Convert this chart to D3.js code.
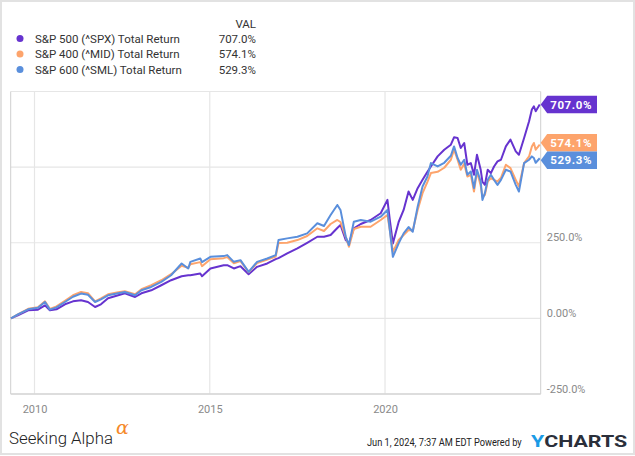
<!DOCTYPE html>
<html>
<head>
<meta charset="utf-8">
<script src="https://cdn.jsdelivr.net/npm/d3@7"></script>
<style>
  html, body { margin: 0; padding: 0; background: #fff; }
  svg { display: block; font-family: Roboto, "Noto Sans", sans-serif; }
</style>
</head>
<body>
<svg id="chart" width="635" height="456"></svg>
<script>
// ---- data ----
const seriesNames = ["S&P 500 (^SPX) Total Return", "S&P 400 (^MID) Total Return", "S&P 600 (^SML) Total Return"];
const seriesColors = ["#6633cf", "#fda46c", "#5a8fdc"];
const finalLabels = ["707.0%", "574.1%", "529.3%"];

const dates = [
  "2009-05-01","2009-07-12","2009-10-27","2010-02-06","2010-04-20","2010-06-10","2010-08-18","2010-11-14",
  "2011-02-06","2011-05-01","2011-07-12","2011-09-24","2011-11-24","2012-02-06","2012-05-22","2012-07-30",
  "2012-11-14","2013-01-19","2013-05-01","2013-08-14","2013-11-24","2014-03-14","2014-05-22","2014-06-13",
  "2014-09-24","2014-10-12","2015-01-08","2015-05-26","2015-07-02","2015-09-09","2015-11-17","2016-02-10",
  "2016-05-08","2016-08-22","2016-11-18","2016-12-17","2017-03-18","2017-07-02","2017-10-12","2018-01-26",
  "2018-04-05","2018-06-13","2018-08-22","2018-09-24","2018-11-18","2018-12-21","2019-02-10","2019-04-23",
  "2019-08-04","2019-11-17","2020-01-26","2020-02-20","2020-03-23","2020-05-22","2020-07-13","2020-09-02",
  "2020-10-16","2020-12-06","2021-01-26","2021-03-18","2021-04-23","2021-07-02","2021-09-09","2021-11-17",
  "2021-12-20","2022-01-26","2022-02-28","2022-04-05","2022-05-08","2022-06-13","2022-07-16","2022-08-16",
  "2022-09-24","2022-10-12","2022-11-07","2022-12-06","2023-01-08","2023-02-10","2023-03-18","2023-04-23",
  "2023-06-13","2023-07-31","2023-09-24","2023-10-27","2023-12-20","2024-02-10","2024-03-10","2024-03-31",
  "2024-04-19","2024-05-31"
];

const spx = [
  0, 10, 26.6, 28.9, 43.1, 26.6, 29.9, 46.5,
  56.4, 59.7, 54.1, 37.5, 46.5, 66.4, 76.3, 83,
  70.7, 83, 92.9, 109.5, 126.1, 139.4, 142.7, 142.7,
  148.4, 139.4, 165, 175.9, 175.9, 165, 172.6, 146,
  170.3, 181.5, 195.8, 199.1, 214.7, 231.3, 249.9, 269.8,
  269.8, 275.5, 298.7, 308.7, 258.9, 247.9, 297.7, 312,
  325.3, 347.5, 391.6, 325.3, 247.9, 318.6, 358.5, 419.2,
  391.6, 430.5, 458, 484.6, 502.2, 535.4, 557.6, 574.2,
  598.4, 596.4, 563.2, 579.8, 507.8, 513.4, 474.6, 541,
  491.2, 451.4, 441.4, 491.2, 480.3, 502.2, 518.8, 524.4,
  568.5, 590.8, 551.9, 541, 596.4, 651.5, 690.4, 701.3,
  684.7, 707.0
];

const mid = [
  0, 13, 31.5, 36.5, 56.4, 31.5, 39.8, 58.1,
  76.3, 87.3, 83, 56.4, 66.4, 79.7, 86.3, 89.6,
  79.7, 96.3, 109.5, 126.1, 146, 174.2, 167.6, 179.2,
  185.9, 172.6, 195.8, 199.1, 202.5, 182.5, 189.2, 152.7,
  182.5, 194.2, 204.1, 248.9, 249.9, 258.9, 272.2, 297.7,
  288.8, 312, 325.3, 318.6, 268.8, 236.6, 295.4, 303,
  303, 325.3, 341.9, 292.1, 220, 258.9, 275.5, 292.1,
  290.4, 358.5, 413.9, 451.4, 480.3, 484.6, 497.9, 524.4,
  557.6, 524.4, 491.2, 511.1, 469, 474.6, 419.2, 485.6,
  438.1, 401.6, 408.2, 452.4, 463.7, 458, 452.4, 464.7,
  507.8, 496.8, 458, 435.8, 513.4, 535.4, 568.5, 579.8,
  557.6, 574.1
];

const sml = [
  0, 13, 29.9, 34.8, 54.1, 28.9, 36.5, 54.1,
  71.4, 82, 78, 54.1, 63.1, 76.3, 83, 87.3,
  76.3, 92.9, 103.9, 120.5, 142.7, 181.5, 165, 186.9,
  198.1, 185.9, 203.5, 205.8, 209.1, 186.9, 192.5, 153.7,
  186.9, 198.1, 209.1, 258.9, 264.5, 269.8, 281.1, 314.3,
  305.3, 341.9, 375, 358.5, 269.8, 242.3, 319.6, 325.3,
  319.6, 336.2, 358.5, 292.1, 203.5, 247.9, 281.1, 302,
  286.4, 369.4, 435.8, 469, 513.4, 502.2, 514.4, 537.7,
  568.5, 530, 507.8, 524.4, 474.6, 485.6, 430.5, 491.2,
  452.4, 391.6, 414.9, 458, 474.6, 458, 441.4, 458,
  491.2, 485.6, 441.4, 419.2, 513.4, 524.4, 535.4, 530,
  514.4, 529.3
];

const gridValues = [-250, 0, 250, 500, 750];
const yTickValues = [-250, 0, 250];
const yTickLabels = ["-250.0%", "0.00%", "250.0%"];
const xTickYears = [2010, 2015, 2020];

// ---- drawing ----
const svg = d3.select("#chart");
const W = 635, H = 456;
const parse = d3.timeParse("%Y-%m-%d");
const dateObjs = dates.map(parse);
const series = [spx, mid, sml];

const plot = { left: 10.7, right: 540.7, top: 91.5, bottom: 394 };

const x = d3.scaleTime()
  .domain([parse("2009-04-28"), parse("2024-06-10")])
  .range([plot.left, plot.right]);
const y = d3.scaleLinear()
  .domain([-250, 750])
  .range([plot.bottom, plot.top]);

// outer frame
svg.append("rect").attr("x", 1).attr("y", 1).attr("width", W - 2).attr("height", H - 3)
  .attr("fill", "#fff").attr("stroke", "#e2e2e2").attr("stroke-width", 2);

// horizontal gridlines
svg.append("g").selectAll("line").data(gridValues).join("line")
  .attr("x1", plot.left).attr("x2", plot.right)
  .attr("y1", d => y(d)).attr("y2", d => y(d))
  .attr("stroke", "#e6e6e6").attr("stroke-width", 1.2);

// vertical gridlines
const xTickDates = xTickYears.map(yr => new Date(yr, 0, 1));
svg.append("g").selectAll("line").data(xTickDates).join("line")
  .attr("x1", d => x(d)).attr("x2", d => x(d))
  .attr("y1", plot.top).attr("y2", plot.bottom)
  .attr("stroke", "#e6e6e6").attr("stroke-width", 1.2);

// plot border (left, right, bottom)
svg.append("line").attr("x1", plot.left).attr("x2", plot.left).attr("y1", plot.top).attr("y2", plot.bottom)
  .attr("stroke", "#cfcfcf").attr("stroke-width", 1);
svg.append("line").attr("x1", plot.right).attr("x2", plot.right).attr("y1", plot.top).attr("y2", plot.bottom)
  .attr("stroke", "#cfcfcf").attr("stroke-width", 1);
svg.append("line").attr("x1", plot.left).attr("x2", plot.right).attr("y1", plot.bottom).attr("y2", plot.bottom)
  .attr("stroke", "#d6d6d6").attr("stroke-width", 1.5);

// x axis labels
const xAxis = d3.axisBottom(x).tickValues(xTickDates).tickFormat(d3.timeFormat("%Y")).tickSize(0).tickPadding(0);
const gx = svg.append("g").attr("transform", `translate(0,${plot.bottom})`).call(xAxis);
gx.select(".domain").remove();
gx.selectAll("text").attr("y", 19).attr("dy", 0)
  .attr("fill", "#8a8a8a").style("font-size", "11px").style("font-family", "Roboto, sans-serif");

// y axis labels (right)
const yAxis = d3.axisRight(y).tickValues(yTickValues)
  .tickFormat(d => yTickLabels[yTickValues.indexOf(d)]).tickSize(0).tickPadding(0);
const gy = svg.append("g").attr("transform", `translate(${plot.right + 6},0)`).call(yAxis);
gy.select(".domain").remove();
gy.selectAll("text").attr("dy", -2).attr("y", 0)
  .attr("fill", "#8a8a8a").style("font-size", "11px").style("font-family", "Roboto, sans-serif")
  .attr("dominant-baseline", "auto");

// lines
const line = d3.line().x((d, i) => x(dateObjs[i])).y(d => y(d)).curve(d3.curveLinear);
series.forEach((s, k) => {
  svg.append("path").datum(s).attr("d", line)
    .attr("fill", "none").attr("stroke", seriesColors[k])
    .attr("stroke-width", 2).attr("stroke-linejoin", "round");
});

// end tags with collision avoidance
const tagH = 17.5;
let tags = series.map((s, k) => ({ k, yy: y(s[s.length - 1]) }));
tags.sort((a, b) => a.yy - b.yy);
for (let iter = 0; iter < 50; iter++) {
  for (let i = 1; i < tags.length; i++) {
    const gap = tags[i].yy - tags[i - 1].yy;
    if (gap < tagH) {
      const push = (tagH - gap) / 2;
      tags[i].yy += push; tags[i - 1].yy -= push;
    }
  }
}
const tx0 = plot.right, tx1 = plot.right + 6.5, tx2 = 597;
tags.forEach(t => {
  const c = t.yy, h = tagH / 2;
  svg.append("path")
    .attr("d", `M${tx0},${c} L${tx1},${c - h} L${tx2},${c - h} L${tx2},${c + h} L${tx1},${c + h} Z`)
    .attr("fill", seriesColors[t.k]);
  svg.append("text").attr("x", tx1 + 3).attr("y", c + 4.2)
    .attr("fill", "#fff").style("font-size", "11.5px").style("font-weight", "700")
    .style("letter-spacing", "0.6px").text(finalLabels[t.k]);
});

// legend
svg.append("text").attr("x", 256).attr("y", 27.5).attr("text-anchor", "end")
  .attr("fill", "#333").style("font-size", "11.5px").text("VAL");
const legendY = [38.5, 54, 69.5];
seriesNames.forEach((name, k) => {
  svg.append("circle").attr("cx", 20).attr("cy", legendY[k]).attr("r", 3.5).attr("fill", seriesColors[k]);
  svg.append("text").attr("x", 35).attr("y", legendY[k] + 4.2)
    .attr("fill", "#333").style("font-size", "11.5px").text(name);
  svg.append("text").attr("x", 256).attr("y", legendY[k] + 4.2).attr("text-anchor", "end")
    .attr("fill", "#333").style("font-size", "11.5px").text(finalLabels[k]);
});

// footer: texts horizontally condensed to a target width via transform
function condensed(x0, y0, width, styler) {
  const g = svg.append("g");
  const t = g.append("text").attr("x", 0).attr("y", 0);
  styler(t);
  const natural = t.node().getComputedTextLength() || width;
  g.attr("transform", `translate(${x0},${y0}) scale(${width / natural},1)`);
  return t;
}
condensed(9, 444, 104, t => t.attr("fill", "#222").style("font-size", "17px").style("font-weight", "300").text("Seeking Alpha"));
svg.append("text").attr("x", 116).attr("y", 434).attr("fill", "#f5892a")
  .style("font-size", "19px").style("font-family", "'DejaVu Serif', serif").style("font-style", "italic")
  .text("α");
condensed(367, 445.5, 155, t => t.attr("fill", "#222").style("font-size", "11px").text("Jun 1, 2024, 7:37 AM EDT Powered by"));
condensed(531, 446.5, 96, t => {
  t.style("font-size", "16px").style("font-weight", "700");
  t.append("tspan").attr("fill", "#1a9be6").text("Y");
  t.append("tspan").attr("fill", "#2b2f3a").text("CHARTS");
});
</script>
</body>
</html>
